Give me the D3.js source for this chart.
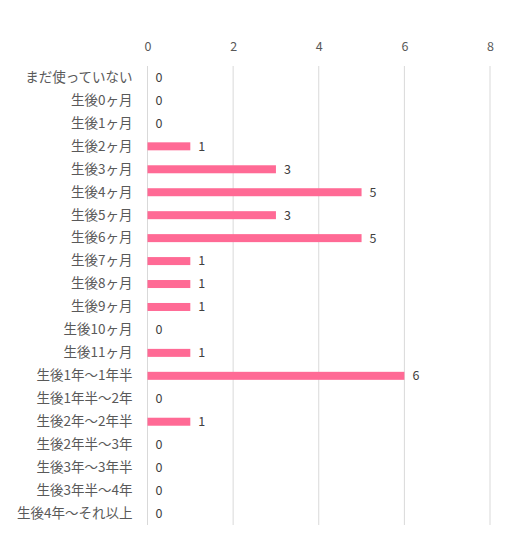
<!DOCTYPE html>
<html>
<head>
<meta charset="utf-8">
<script src="https://cdn.jsdelivr.net/npm/d3@7"></script>
<style>
  body { margin: 0; background: #fff; }
  text { font-family: "Noto Sans CJK JP", "Noto Sans", sans-serif; }
</style>
</head>
<body>
<div class="canvas"></div>
<script>
// categories top to bottom
const categories = [
  'まだ使っていない', '生後0ヶ月', '生後1ヶ月', '生後2ヶ月', '生後3ヶ月',
  '生後4ヶ月', '生後5ヶ月', '生後6ヶ月', '生後7ヶ月', '生後8ヶ月',
  '生後9ヶ月', '生後10ヶ月', '生後11ヶ月', '生後1年～1年半', '生後1年半～2年',
  '生後2年～2年半', '生後2年半～3年', '生後3年～3年半', '生後3年半～4年', '生後4年～それ以上'
];
const values = [0, 0, 0, 1, 3, 5, 3, 5, 1, 1, 1, 0, 1, 6, 0, 1, 0, 0, 0, 0];
const xTicks = [0, 2, 4, 6, 8];

const svg = d3.select('.canvas')
  .append('svg')
  .attr('width', 528)
  .attr('height', 554);

const margin = { top: 66, left: 147.5, right: 38, bottom: 29 };
const graphWidth = 528 - margin.left - margin.right;
const graphHeight = 554 - margin.top - margin.bottom;

const graph = svg.append('g')
  .attr('transform', `translate(${margin.left}, ${margin.top})`);

const x = d3.scaleLinear().domain([0, 8]).range([0, graphWidth]);
const y = d3.scaleBand().domain(categories).range([0, graphHeight]);

// gridlines
graph.selectAll('line.grid')
  .data(xTicks)
  .enter().append('line')
  .attr('class', 'grid')
  .attr('x1', d => x(d)).attr('x2', d => x(d))
  .attr('y1', 0).attr('y2', graphHeight)
  .attr('stroke', '#d9d9d9')
  .attr('stroke-width', 1);

// top tick labels
const xAxis = d3.axisTop(x).tickValues(xTicks).tickSize(0).tickPadding(0);
const xAxisGroup = graph.append('g')
  .attr('transform', 'translate(0, -15)')
  .call(xAxis);
xAxisGroup.select('.domain').remove();
xAxisGroup.selectAll('text')
  .attr('fill', '#595959')
  .attr('font-size', 12.5);

// category labels
const yAxis = d3.axisLeft(y).tickSize(0).tickPadding(15);
const yAxisGroup = graph.append('g').call(yAxis);
yAxisGroup.select('.domain').remove();
yAxisGroup.selectAll('text')
  .attr('fill', '#595959')
  .attr('font-size', 13.5);

// bars
graph.selectAll('rect')
  .data(values)
  .enter().append('rect')
  .attr('x', x(0))
  .attr('y', (d, i) => y(categories[i]) + y.bandwidth() / 2 - 4)
  .attr('width', d => x(d) - x(0))
  .attr('height', 8)
  .attr('fill', '#ff6a95');

// value labels
graph.selectAll('text.val')
  .data(values)
  .enter().append('text')
  .attr('class', 'val')
  .attr('x', d => x(d) + 8)
  .attr('y', (d, i) => y(categories[i]) + y.bandwidth() / 2)
  .attr('dy', '0.35em')
  .attr('fill', '#404040')
  .attr('font-size', 12.5)
  .text(d => d);
</script>
</body>
</html>
